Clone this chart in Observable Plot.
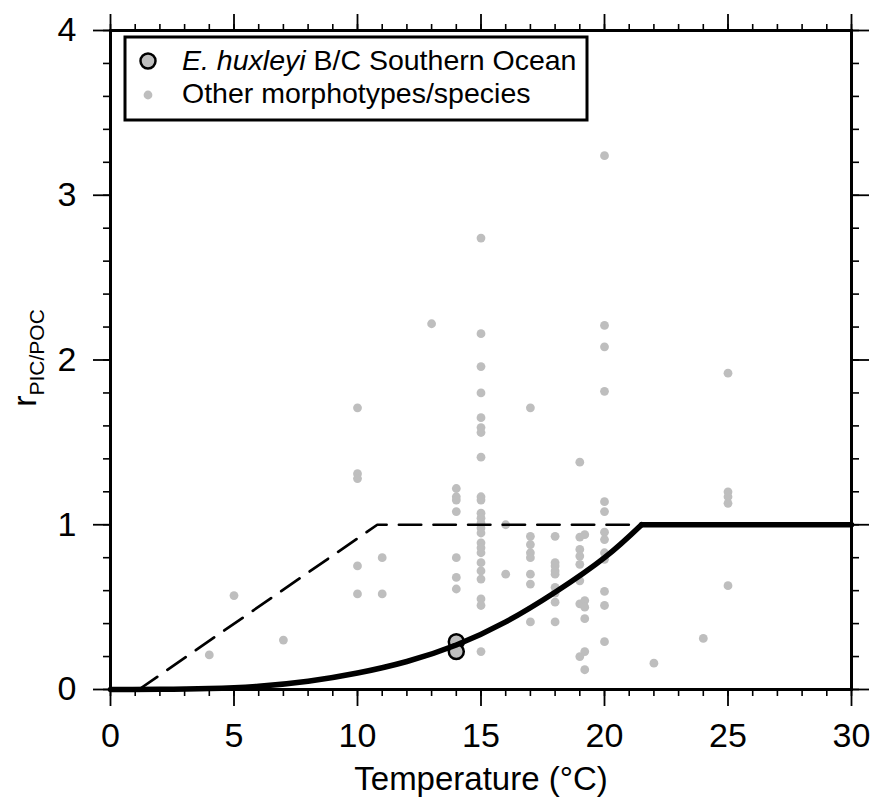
<!DOCTYPE html>
<html><head><meta charset="utf-8">
<script src="https://cdn.jsdelivr.net/npm/d3@7"></script>
<script src="https://cdn.jsdelivr.net/npm/@observablehq/plot@0.6"></script>
<style>
body{margin:0;background:#fff;}
#chart svg{display:block;}
</style>
</head><body><div id="chart"></div>
<script>
// ---- data ----
const xTicks = [0, 5, 10, 15, 20, 25, 30];
const yTicks = [0, 1, 2, 3, 4];
const xTitle = "Temperature (°C)";
const yTitleMain = "r";
const yTitleSub = "PIC/POC";
const legendItalic = "E. huxleyi";
const legendRest = " B/C Southern Ocean";
const legendOther = "Other morphotypes/species";

// other morphotypes / species
const otherTemp = [
  4, 5, 7,
  10, 10, 10, 10, 10,
  11, 11,
  13,
  14, 14, 14, 14, 14, 14, 14,
  15, 15, 15, 15, 15, 15, 15, 15, 15, 15, 15, 15, 15, 15, 15, 15, 15, 15, 15, 15, 15, 15, 15, 15,
  16, 16,
  17, 17, 17, 17, 17, 17, 17, 17,
  18, 18, 18, 18, 18, 18, 18, 18, 18,
  19, 19, 19, 19, 19, 19, 19, 19,
  19.2, 19.2, 19.2, 19.2, 19.2, 19.2,
  20, 20, 20, 20, 20, 20, 20, 20, 20, 20, 20, 20, 20,
  22, 24,
  25, 25, 25, 25, 25
];
const otherRatio = [
  0.21, 0.57, 0.30,
  1.71, 1.31, 1.28, 0.75, 0.58,
  0.80, 0.58,
  2.22,
  1.22, 1.17, 1.15, 1.08, 0.80, 0.68, 0.61,
  2.74, 2.16, 1.96, 1.80, 1.65, 1.59, 1.56, 1.41, 1.17, 1.15, 1.07, 1.04, 1.01, 0.98, 0.95, 0.89, 0.86, 0.83, 0.77, 0.72, 0.67, 0.55, 0.51, 0.23,
  1.00, 0.70,
  1.71, 0.93, 0.88, 0.83, 0.80, 0.70, 0.64, 0.41,
  0.93, 0.77, 0.75, 0.72, 0.70, 0.62, 0.585, 0.53, 0.41,
  1.38, 0.925, 0.85, 0.81, 0.76, 0.66, 0.52, 0.20,
  0.94, 0.54, 0.50, 0.43, 0.23, 0.12,
  3.24, 2.21, 2.08, 1.81, 1.14, 1.08, 0.955, 0.91, 0.83, 0.79, 0.595, 0.51, 0.29,
  0.16, 0.31,
  1.92, 1.20, 1.17, 1.13, 0.63
];

// E. huxleyi B/C Southern Ocean
const ehuxTemp = [14, 14];
const ehuxRatio = [0.29, 0.23];

// solid curve (rising part, then plateau)
const curveTemp  = [0, 2, 4, 6, 8, 10, 12, 14, 16, 18, 20, 21.5];
const curveRatio = [0, 0.001, 0.006, 0.02, 0.05, 0.10, 0.17, 0.27, 0.41, 0.59, 0.80, 1.0];
const plateauTemp  = [21.5, 30];
const plateauRatio = [1.0, 1.0];

// dashed line
const dashTemp  = [1.15, 10.8, 21.5];
const dashRatio = [0, 1, 1];

// ---- tables ----
const zip = (a, b) => a.map((t, i) => ({t, r: b[i]}));
const others = zip(otherTemp, otherRatio);
const ehux = zip(ehuxTemp, ehuxRatio);
const curve = zip(curveTemp, curveRatio);
const plateau = zip(plateauTemp, plateauRatio);
const dashed = zip(dashTemp, dashRatio);
const xMinor = d3.range(0, 30.001, 1);
const yMinor = d3.range(0, 4.001, 0.2);

const FONT = "'Liberation Sans', Arial, Helvetica, sans-serif";
const GREY = "#bebebe";
const fmt = d3.format("d");
const none = () => "";

const chart = Plot.plot({
  width: 875,
  height: 806,
  marginLeft: 110,
  marginRight: 24,
  marginTop: 30,
  marginBottom: 117,
  style: {fontFamily: FONT, fontSize: "34px", background: "#fff", color: "#000"},
  x: {domain: [0, 30]},
  y: {domain: [0, 4]},
  marks: [
    // minor ticks
    Plot.axisX(xMinor, {anchor: "bottom", tickSize: 7, tickFormat: none, label: null, strokeWidth: 1.6}),
    Plot.axisX(xMinor, {anchor: "top", tickSize: 7, tickFormat: none, label: null, strokeWidth: 1.6}),
    Plot.axisY(yMinor, {anchor: "left", tickSize: 7, tickFormat: none, label: null, strokeWidth: 1.6}),
    Plot.axisY(yMinor, {anchor: "right", tickSize: 7, tickFormat: none, label: null, strokeWidth: 1.6}),
    // major ticks
    Plot.axisX(xTicks, {anchor: "bottom", tickSize: 17, tickPadding: 16, fontSize: 34, tickFormat: fmt, label: null, strokeWidth: 1.8}),
    Plot.axisX(xTicks, {anchor: "top", tickSize: 17, tickFormat: none, label: null, strokeWidth: 1.8}),
    Plot.axisY(yTicks, {anchor: "left", tickSize: 17, tickPadding: 17, fontSize: 34, tickFormat: fmt, label: null, strokeWidth: 1.8}),
    Plot.axisY(yTicks, {anchor: "right", tickSize: 17, tickFormat: none, label: null, strokeWidth: 1.8}),
    // data
    Plot.dot(others, {x: "t", y: "r", r: 4.4, fill: GREY, stroke: null}),
    Plot.line(dashed, {x: "t", y: "r", stroke: "#000", strokeWidth: 2.7, strokeDasharray: "22.3,12.3"}),
    Plot.dot(ehux, {x: "t", y: "r", r: 7.5, fill: GREY, stroke: "#000", strokeWidth: 2.5}),
    Plot.line(curve, {x: "t", y: "r", stroke: "#000", strokeWidth: 5.5, curve: "natural", strokeLinejoin: "round"}),
    Plot.line(plateau, {x: "t", y: "r", stroke: "#000", strokeWidth: 5.5}),
    Plot.frame({stroke: "#000", strokeWidth: 3}),
    // x title
    Plot.text([xTitle], {frameAnchor: "bottom", text: d => d, dy: 100, fontSize: 33})
  ]
});

document.getElementById("chart").appendChild(chart);

// ---- y title with subscript ----
const svg = d3.select(chart);
const yt = svg.append("text")
  .attr("transform", "translate(36,358) rotate(-90)")
  .attr("text-anchor", "middle")
  .attr("font-family", FONT)
  .attr("fill", "#000");
yt.append("tspan").attr("font-size", 34).text(yTitleMain);
yt.append("tspan").attr("font-size", 21).attr("dy", 8).text(yTitleSub);

// ---- legend ----
const lg = svg.append("g").attr("text-anchor", "start");
lg.append("rect")
  .attr("x", 125).attr("y", 37).attr("width", 462).attr("height", 83)
  .attr("fill", "#fff").attr("stroke", "#000").attr("stroke-width", 3);
lg.append("circle").attr("cx", 148).attr("cy", 61).attr("r", 7.5)
  .attr("fill", GREY).attr("stroke", "#000").attr("stroke-width", 2.5);
lg.append("circle").attr("cx", 148).attr("cy", 95).attr("r", 4.4).attr("fill", GREY);
const t1 = lg.append("text").attr("x", 182).attr("y", 70)
  .attr("text-anchor", "start")
  .attr("font-family", FONT).attr("font-size", 28.5).attr("fill", "#000")
  .style("white-space", "pre");
t1.append("tspan").attr("font-style", "italic").text(legendItalic);
t1.append("tspan").text(legendRest);
lg.append("text").attr("x", 182).attr("y", 103)
  .attr("text-anchor", "start")
  .attr("font-family", FONT).attr("font-size", 28.5).attr("fill", "#000")
  .text(legendOther);
</script>
</body></html>
